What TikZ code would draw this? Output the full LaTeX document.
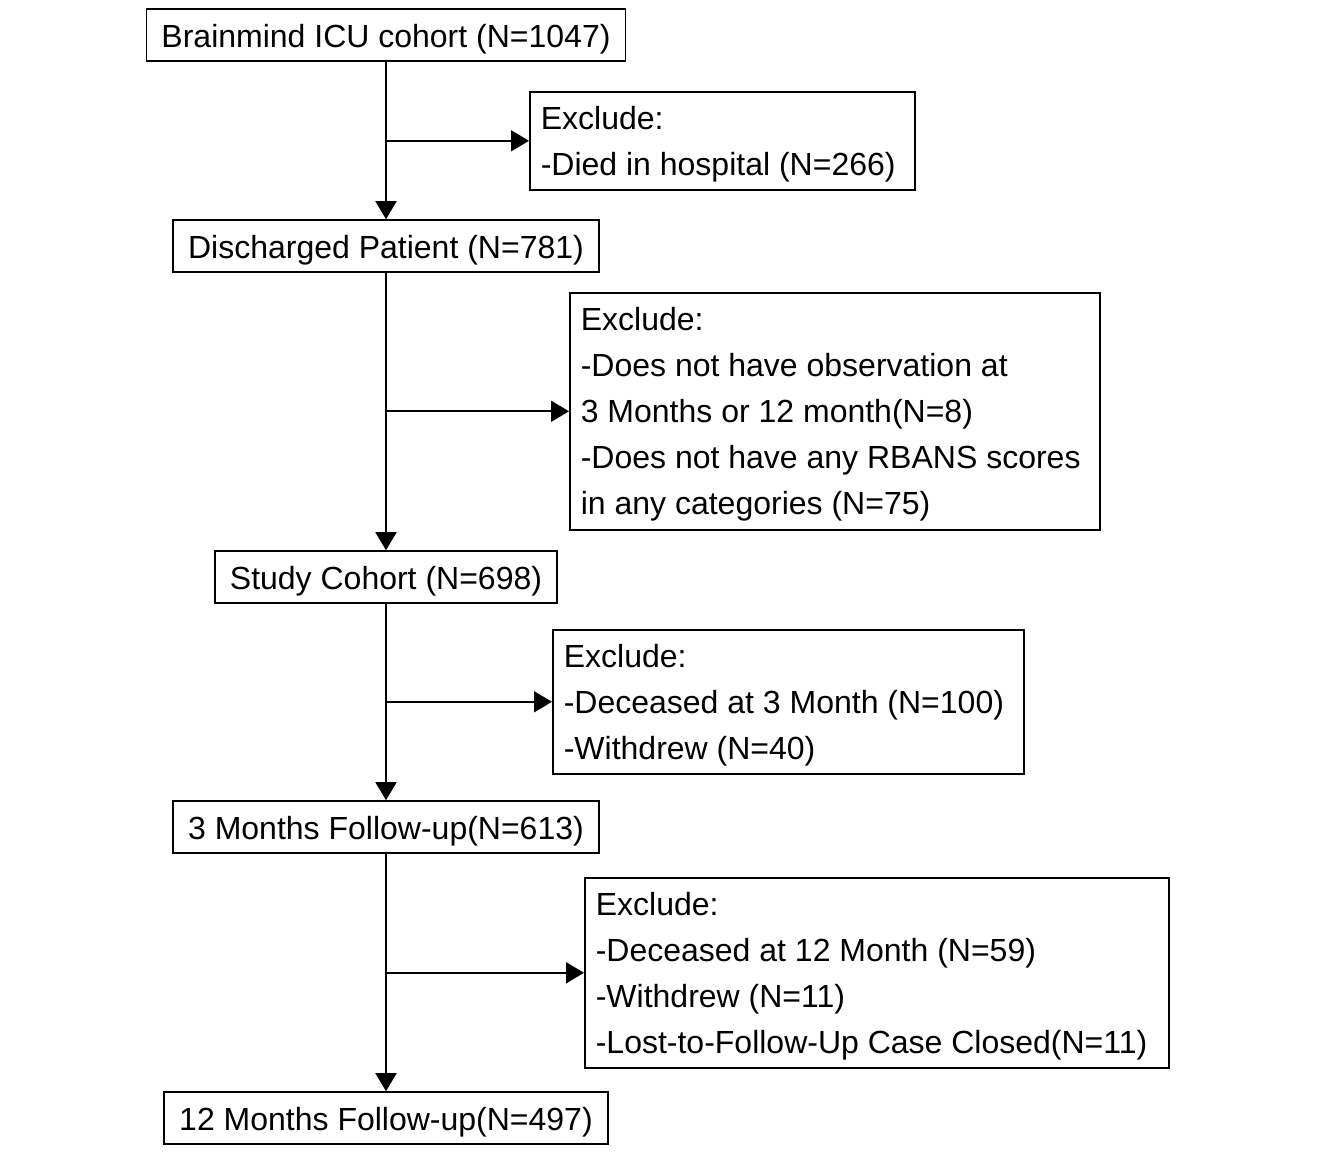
\documentclass[tikz,border=0pt]{standalone}
\usepackage{fontspec}
\setmainfont{Liberation Sans}
\usetikzlibrary{arrows.meta}

\tikzstyle{mainbox}=[draw,line width=1.6pt,inner xsep=15pt,inner ysep=0pt,minimum height=52pt,text height=28pt,text depth=4pt]
\tikzstyle{exclbox}=[draw,line width=1.6pt,inner xsep=11pt,inner ysep=0pt,align=flush left,anchor=north west,execute at begin node={\rule{0pt}{30pt}}]
\tikzstyle{flowedge}=[line width=1.8pt,-{Triangle[length=18pt,width=21pt]}]

\begin{document}
\begin{tikzpicture}[x=1pt,y=-1pt,font=\fontsize{32}{46}\selectfont]
\useasboundingbox (0,0) rectangle (1344,1152);
% main column
\node[mainbox] (cohort)     at (386,35)   {Brainmind ICU cohort (N=1047)};
\node[mainbox] (discharged) at (386,246)  {Discharged Patient (N=781)};
\node[mainbox] (study)      at (386,577)  {Study Cohort (N=698)};
\node[mainbox] (month3)     at (386,827)  {3 Months Follow-up(N=613)};
\node[mainbox] (month12)    at (386,1118) {12 Months Follow-up(N=497)};
% exclusion boxes
\node[exclbox,text width=363pt,minimum height=98pt] (excl1) at (529,91)
    {Exclude:\\-Died in hospital (N=266)};
\node[exclbox,text width=508pt,minimum height=237pt] (excl2) at (569,292)
    {Exclude:\\-Does not have observation at\\3 Months or 12 month(N=8)\\-Does not have any RBANS scores\\in any categories (N=75)};
\node[exclbox,text width=449pt,minimum height=144pt] (excl3) at (552,629)
    {Exclude:\\-Deceased at 3 Month (N=100)\\-Withdrew (N=40)};
\node[exclbox,text width=562pt,minimum height=190pt] (excl4) at (584,877)
    {Exclude:\\-Deceased at 12 Month (N=59)\\-Withdrew (N=11)\\-Lost-to-Follow-Up Case Closed(N=11)};
% connectors
\draw[flowedge] (cohort) -- (discharged);
\draw[flowedge] (discharged) -- (study);
\draw[flowedge] (study) -- (month3);
\draw[flowedge] (month3) -- (month12);
\draw[flowedge] (cohort.south |- excl1.west) -- (excl1.west);
\draw[flowedge] (discharged.south |- excl2.west) -- (excl2.west);
\draw[flowedge] (study.south |- excl3.west) -- (excl3.west);
\draw[flowedge] (month3.south |- excl4.west) -- (excl4.west);
\end{tikzpicture}
\end{document}
